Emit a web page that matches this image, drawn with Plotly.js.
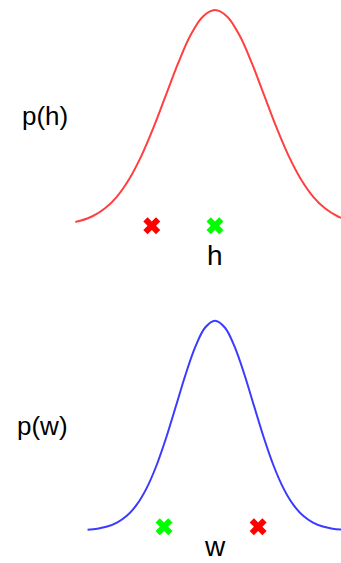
<!DOCTYPE html>
<html>
<head>
<meta charset="utf-8">
<script src="https://cdn.plot.ly/plotly-3.0.1.min.js"></script>
<style>html,body{margin:0;padding:0;background:#fff;}#chart{width:341px;height:563px;}</style>
</head>
<body>
<div id="chart"></div>
<script>
// Top panel: p(h) curve samples
var hX = [-2.85, -2.75, -2.5, -2.25, -2, -1.75, -1.5, -1.25, -1, -0.75, -0.5, -0.25, 0, 0.25, 0.5, 0.75, 1, 1.25, 1.5, 1.75, 2, 2.25, 2.5, 2.75];
var hY = [0.0172, 0.0228, 0.0439, 0.0796, 0.1353, 0.2163, 0.3247, 0.4578, 0.6065, 0.7548, 0.8825, 0.9692, 1, 0.9692, 0.8825, 0.7548, 0.6065, 0.4578, 0.3247, 0.2163, 0.1353, 0.0796, 0.0439, 0.0228];
// Top panel markers
var hRedX = [-1.29], hRedY = [0];
var hGreenX = [0], hGreenY = [0];

// Bottom panel: p(w) curve samples
var wX = [-2.6, -2.4, -2.2, -2, -1.8, -1.6, -1.4, -1.2, -1, -0.8, -0.6, -0.4, -0.2, 0, 0.2, 0.4, 0.6, 0.8, 1, 1.2, 1.4, 1.6, 1.8, 2, 2.2, 2.4, 2.6];
var wY = [0.0039, 0.0088, 0.0187, 0.0374, 0.0698, 0.1220, 0.1997, 0.3062, 0.4396, 0.591, 0.7439, 0.8768, 0.9677, 1, 0.9677, 0.8768, 0.7439, 0.591, 0.4396, 0.3062, 0.1997, 0.1220, 0.0698, 0.0374, 0.0187, 0.0088, 0.0039];
// Bottom panel markers
var wGreenX = [-1.04], wGreenY = [0.018];
var wRedX = [0.88], wRedY = [0.018];

// Labels
var xLabels = ['h', 'w'];
var yLabels = ['p(h)', 'p(w)'];

var FONT = 'Liberation Sans, Arial, sans-serif';

var traces = [
  {x: hX, y: hY, type: 'scatter', mode: 'lines', line: {color: '#ff4040', width: 2, shape: 'spline'}, xaxis: 'x', yaxis: 'y', hoverinfo: 'none'},
  {x: hRedX, y: hRedY, type: 'scatter', mode: 'markers', marker: {symbol: 'x', size: 15, color: '#ff0000'}, xaxis: 'x', yaxis: 'y'},
  {x: hGreenX, y: hGreenY, type: 'scatter', mode: 'markers', marker: {symbol: 'x', size: 15, color: '#00ff00'}, xaxis: 'x', yaxis: 'y'},
  {x: wX, y: wY, type: 'scatter', mode: 'lines', line: {color: '#3b3bff', width: 2, shape: 'spline'}, xaxis: 'x2', yaxis: 'y2', hoverinfo: 'none'},
  {x: wGreenX, y: wGreenY, type: 'scatter', mode: 'markers', marker: {symbol: 'x', size: 15, color: '#00ff00'}, xaxis: 'x2', yaxis: 'y2'},
  {x: wRedX, y: wRedY, type: 'scatter', mode: 'markers', marker: {symbol: 'x', size: 15, color: '#ff0000'}, xaxis: 'x2', yaxis: 'y2'}
];

var axisCommon = {showgrid: false, zeroline: false, showline: false, showticklabels: false, ticks: '', fixedrange: true};

var layout = {
  width: 341, height: 563,
  margin: {l: 0, r: 0, t: 0, b: 0},
  paper_bgcolor: '#ffffff', plot_bgcolor: '#ffffff',
  showlegend: false,
  font: {family: FONT, color: '#000000'},
  xaxis: Object.assign({}, axisCommon, {domain: [0.2199, 1], range: [-2.857, 2.571], anchor: 'y'}),
  yaxis: Object.assign({}, axisCommon, {domain: [0.5799, 0.9899], range: [-0.05, 1.02], anchor: 'x'}),
  xaxis2: Object.assign({}, axisCommon, {domain: [0.2199, 1], range: [-2.857, 2.571], anchor: 'y2'}),
  yaxis2: Object.assign({}, axisCommon, {domain: [0.0391, 0.4378], range: [-0.05, 1.02], anchor: 'x2'}),
  annotations: [
    {text: yLabels[0], xref: 'paper', yref: 'paper', x: 45 / 341, y: (563 - 116) / 563, xanchor: 'center', yanchor: 'middle', showarrow: false, font: {size: 26, family: FONT, color: '#000'}},
    {text: yLabels[1], xref: 'paper', yref: 'paper', x: 42 / 341, y: (563 - 426) / 563, xanchor: 'center', yanchor: 'middle', showarrow: false, font: {size: 26, family: FONT, color: '#000'}},
    {text: xLabels[0], xref: 'x', yref: 'paper', x: 0, y: (563 - 255) / 563, xanchor: 'center', yanchor: 'middle', showarrow: false, font: {size: 28, family: FONT, color: '#000'}},
    {text: xLabels[1], xref: 'x2', yref: 'paper', x: 0, y: 0, xanchor: 'center', yanchor: 'bottom', borderpad: 0, showarrow: false, font: {size: 28, family: FONT, color: '#000'}}
  ]
};

Plotly.newPlot('chart', traces, layout, {displayModeBar: false, staticPlot: true});
</script>
</body>
</html>
